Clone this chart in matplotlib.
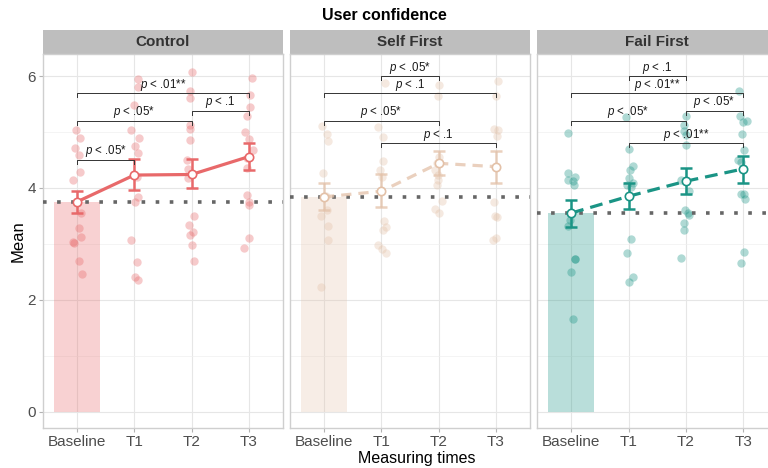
import numpy as np
import matplotlib
matplotlib.use("Agg")
from matplotlib import pyplot as plt
from matplotlib.patches import Rectangle

plt.rcParams['font.family'] = ['Liberation Sans', 'DejaVu Sans']
plt.rcParams['mathtext.fontset'] = 'custom'
plt.rcParams['mathtext.it'] = 'Liberation Sans:italic'
plt.rcParams['mathtext.rm'] = 'Liberation Sans'

times = ["Baseline", "T1", "T2", "T3"]
groups = ["Control", "Self First", "Fail First"]

# individual ratings + horizontal jitter
control_pts = [
    [5.04, 4.90, 4.71, 4.59, 4.29, 4.15, 3.55, 3.28, 3.13, 3.04, 3.01, 2.70, 2.46],
    [5.95, 5.81, 5.48, 5.03, 4.90, 4.75, 4.62, 4.19, 3.83, 3.74, 3.06, 2.67, 2.40, 2.35],
    [6.08, 5.74, 5.60, 5.12, 5.06, 4.86, 4.50, 4.33, 4.17, 3.50, 3.34, 3.22, 3.16, 2.97, 2.69],
    [5.96, 5.66, 5.44, 5.29, 5.00, 4.87, 4.68, 4.53, 4.35, 3.87, 3.75, 3.69, 3.11, 2.92],
]
control_jit = [
    [-0.02, 0.06, -0.03, 0.04, 0.06, -0.06, 0.08, 0.04, 0.07, -0.06, -0.05, 0.03, 0.09],
    [0.06, 0.06, 0.0, -0.06, 0.08, 0.01, 0.06, 0.05, 0.07, 0.02, -0.06, 0.05, 0.01, 0.07],
    [0.0, -0.03, -0.02, -0.03, -0.02, -0.02, -0.08, -0.07, -0.07, 0.04, -0.04, 0.03, -0.03, 0.01, 0.05],
    [0.06, 0.02, 0.02, -0.03, -0.06, 0.01, 0.07, -0.03, -0.03, -0.03, 0.01, 0.01, 0.01, -0.08],
]
self_pts = [
    [5.11, 4.96, 4.84, 4.26, 3.85, 3.60, 3.50, 3.32, 3.07, 2.22],
    [5.88, 5.09, 4.91, 4.49, 4.32, 4.20, 3.41, 3.30, 3.25, 2.98, 2.90, 2.84],
    [5.84, 5.64, 4.55, 4.45, 4.32, 4.23, 4.14, 4.05, 3.77, 3.63, 3.56],
    [5.92, 5.64, 5.05, 5.03, 4.93, 3.75, 3.49, 3.48, 3.10, 3.07],
]
self_jit = [
    [-0.04, 0.06, 0.07, -0.02, 0.03, 0.06, -0.06, 0.07, 0.07, -0.06],
    [0.06, -0.06, 0.02, 0.02, -0.02, 0.01, 0.04, 0.08, 0.03, -0.06, 0.01, 0.08],
    [0.0, -0.02, 0.0, -0.03, -0.06, -0.02, -0.02, -0.03, 0.05, -0.06, 0.01],
    [0.04, 0.0, -0.04, 0.03, 0.01, -0.04, -0.02, 0.01, 0.0, -0.06],
]
fail_pts = [
    [4.98, 4.26, 4.19, 4.15, 4.12, 4.06, 3.55, 3.42, 3.32, 2.72, 2.72, 2.49, 1.65],
    [5.27, 4.69, 4.39, 4.32, 4.17, 4.09, 4.05, 4.02, 3.08, 2.83, 2.41, 2.32],
    [5.28, 5.12, 5.02, 4.95, 4.77, 4.15, 3.95, 3.60, 3.55, 3.52, 3.38, 3.24, 2.74],
    [5.74, 5.28, 5.18, 5.19, 4.96, 4.68, 4.50, 4.47, 3.89, 3.90, 3.80, 2.85, 2.66],
]
fail_jit = [
    [-0.06, -0.05, 0.07, -0.06, 0.04, 0.05, 0.0, -0.02, -0.06, 0.07, 0.07, -0.01, 0.04],
    [-0.04, 0.0, 0.07, 0.03, 0.01, 0.08, -0.02, 0.05, 0.05, -0.03, 0.07, 0.01],
    [0.0, -0.04, -0.03, 0.0, 0.01, -0.09, 0.05, -0.02, 0.03, 0.05, -0.03, -0.04, -0.09],
    [-0.07, -0.06, -0.01, 0.06, -0.02, 0.02, -0.09, -0.04, -0.04, 0.01, 0.03, 0.01, -0.04],
]

# means and error bar ends
control_mean = [3.75, 4.23, 4.24, 4.56]
control_lo = [3.55, 3.96, 3.99, 4.32]
control_hi = [3.94, 4.51, 4.51, 4.80]
self_mean = [3.84, 3.94, 4.44, 4.38]
self_lo = [3.60, 3.65, 4.23, 4.08]
self_hi = [4.08, 4.24, 4.66, 4.66]
fail_mean = [3.55, 3.85, 4.12, 4.34]
fail_lo = [3.30, 3.62, 3.89, 4.09]
fail_hi = [3.78, 4.08, 4.36, 4.57]

# significance brackets: (from, to, height, label)
control_sig = [(1, 2, 4.50, ".05*"), (1, 3, 5.20, ".05*"), (1, 4, 5.69, ".01**"), (3, 4, 5.38, ".1")]
self_sig = [(2, 3, 6.00, ".05*"), (1, 4, 5.69, ".1"), (1, 3, 5.20, ".05*"), (2, 4, 4.80, ".1")]
fail_sig = [(2, 3, 6.00, ".1"), (1, 4, 5.69, ".01**"), (3, 4, 5.38, ".05*"),
            (1, 3, 5.20, ".05*"), (2, 4, 4.80, ".01**")]

panels = [
    (control_pts, control_jit, control_mean, control_lo, control_hi, control_sig,
     "#E8696A", 0.35, 0.30, 1.0, None),
    (self_pts, self_jit, self_mean, self_lo, self_hi, self_sig,
     "#E3C1A8", 0.35, 0.28, 0.75, (3.2, 2.2)),
    (fail_pts, fail_jit, fail_mean, fail_lo, fail_hi, fail_sig,
     "#1A9485", 0.35, 0.30, 1.0, (4.0, 2.2)),
]

W, H = 768, 468
fig = plt.figure(figsize=(W / 100, H / 100), dpi=100)

pw, step = 240.8, 247.15
left0, bottom, top = 42.5, 428.3, 54.3
strip_h = top - 30.0
x = np.arange(1, 5)

for i, (pts, jit, mean, lo, hi, sig, col, pa, ba, la, dash) in enumerate(panels):
    l = left0 + i * step
    ax = fig.add_axes([l / W, (H - bottom) / H, pw / W, (bottom - top) / H])
    ax.set_xlim(0.4, 4.6)
    ax.set_ylim(-0.3, 6.39)
    ax.set_yticks([0, 2, 4, 6])
    ax.set_yticks([1, 3, 5], minor=True)
    ax.set_xticks(x)
    ax.set_xticklabels(times)
    ax.grid(True, which='major', color='#E6E6E6', lw=0.8, zorder=0)
    ax.grid(True, which='minor', axis='y', color='#F0F0F0', lw=0.5, zorder=0)
    ax.set_axisbelow(True)
    for s in ax.spines.values():
        s.set_color('#CFCFCF')
        s.set_linewidth(1.0)
    ax.tick_params(which='major', length=3, width=0.8, color='#B3B3B3',
                   labelsize=11, labelcolor='#4D4D4D', pad=1.5)
    ax.tick_params(which='minor', length=0)
    if i > 0:
        ax.tick_params(axis='y', labelleft=False, length=0)

    # baseline bar and reference line
    ax.bar(1, mean[0], width=0.8, color=col, alpha=ba, lw=0, zorder=1)
    ax.axhline(mean[0], color='#666666', lw=2.6, ls=(0, (1, 2.9)),
               dash_capstyle='butt', zorder=3)

    for k in range(4):
        ax.scatter(x[k] + np.array(jit[k]), pts[k], s=36, color=col,
                   alpha=pa, lw=0, zorder=2)

    ax.errorbar(x, mean, yerr=[np.array(mean) - np.array(lo), np.array(hi) - np.array(mean)],
                fmt='none', ecolor=col, elinewidth=1.8, capsize=4.2, capthick=1.8,
                alpha=la, zorder=4)
    ln, = ax.plot(x, mean, color=col, lw=2.3, alpha=la, zorder=5)
    if dash is not None:
        ln.set_dashes(dash)
    ax.plot(x, mean, 'o', ms=6, mfc='white', mec=col, mew=1.2, zorder=6)

    # significance brackets
    tip = 0.07
    for a, b, yy, lab in sig:
        ax.plot([a, a, b, b], [yy - tip, yy, yy, yy - tip], color='#333333', lw=0.7,
                zorder=7, clip_on=False)
        ax.text((a + b) / 2, yy + 0.01, r"$p$ < " + lab, ha='center', va='bottom',
                fontsize=8.3, color='#1A1A1A', zorder=8)

    # facet strip
    ax.add_patch(Rectangle((0, 1), 1, strip_h / (bottom - top), transform=ax.transAxes,
                           facecolor='#BEBEBE', edgecolor='none', clip_on=False))
    ax.text(0.5, 1 + strip_h / 2 / (bottom - top), groups[i], transform=ax.transAxes,
            ha='center', va='center', fontsize=11, fontweight='bold', color='#333333')

fig.text(384 / W, 1 - 16 / H, "User confidence", ha='center', va='center',
         fontsize=11.5, fontweight='bold', color='black')
fig.text(417 / W, 1 - 458 / H, "Measuring times", ha='center', va='center',
         fontsize=11.5, color='black')
fig.text(18 / W, 1 - 241 / H, "Mean", ha='center', va='center', rotation=90,
         fontsize=12, color='black')

fig.savefig("out.png", dpi=100)
